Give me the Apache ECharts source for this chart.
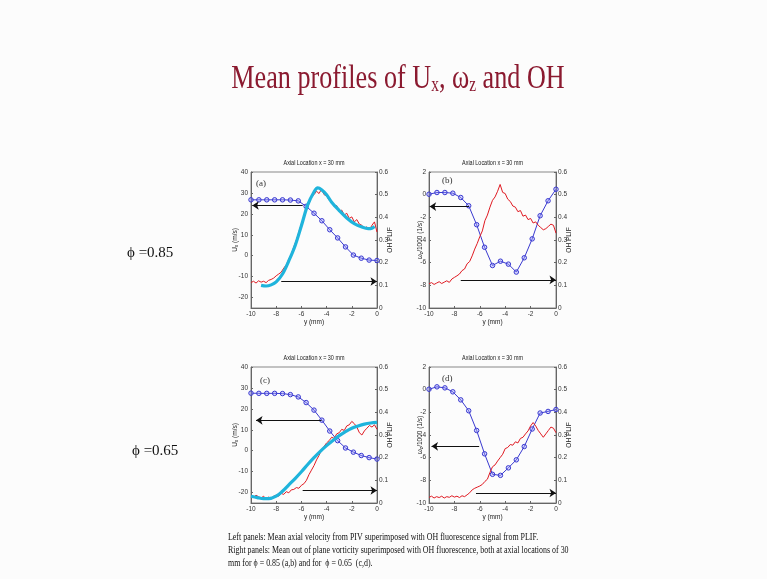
<!DOCTYPE html>
<html>
<head>
<meta charset="utf-8">
<script src="https://cdn.jsdelivr.net/npm/echarts@6/dist/echarts.min.js"></script>
<style>
  html, body { margin: 0; padding: 0; background: #fcfcfc; }
  #chart { width: 767px; height: 579px; }
</style>
</head>
<body>
<div id="chart"></div>
<script>
// PIV measurement stations across the burner radius (mm)
const stationY = [-10, -9.375, -8.75, -8.125, -7.5, -6.875, -6.25, -5.625, -5, -4.375, -3.75, -3.125, -2.5, -1.875, -1.25, -0.625, 0];
// mean axial velocity U_x (m/s) and out-of-plane vorticity omega_z/1000 (1/s)
const uxPhi085   = [26.7, 26.7, 26.7, 26.7, 26.7, 26.6, 26.2, 23.6, 20.3, 16.7, 12.4, 8.5, 4.2, 0.3, -1.2, -2.1, -2.3];
const vortPhi085 = [0.04, 0.19, 0.19, 0.13, -0.25, -0.98, -2.65, -4.64, -6.25, -5.87, -6.13, -6.83, -5.57, -3.9, -1.86, -0.54, 0.48];
const uxPhi065   = [27.5, 27.4, 27.4, 27.4, 27.3, 26.8, 25.7, 23.0, 19.4, 14.6, 9.4, 4.8, 1.3, -0.7, -2.3, -3.3, -4.0];
const vortPhi065 = [0.04, 0.25, 0.16, -0.19, -0.9, -1.86, -3.6, -5.66, -7.47, -7.56, -6.9, -6.19, -5.02, -3.47, -2.06, -1.92, -1.75];

// PLIF pixel columns (mm) and OH fluorescence signal
const plifY = [-10, -9.8, -9.6, -9.4, -9.2, -9, -8.8, -8.6, -8.4, -8.2, -8, -7.8, -7.6, -7.4, -7.2, -7, -6.8, -6.6, -6.4, -6.2,
               -6, -5.8, -5.6, -5.4, -5.2, -5, -4.8, -4.6, -4.4, -4.2, -4, -3.8, -3.6, -3.4, -3.2, -3, -2.8, -2.6, -2.4, -2.2,
               -2, -1.8, -1.6, -1.4, -1.2, -1, -0.8, -0.6, -0.4, -0.2, 0];
const ohPanelA = [0.112, 0.118, 0.110, 0.120, 0.114, 0.118, 0.112, 0.122, 0.126, 0.132, 0.142, 0.150, 0.158, 0.176, 0.190, 0.215, 0.238, 0.270, 0.300, 0.335,
                  0.372, 0.400, 0.435, 0.460, 0.490, 0.500, 0.515, 0.505, 0.525, 0.500, 0.495, 0.475, 0.470, 0.448, 0.452, 0.428, 0.432, 0.410, 0.418, 0.395,
                  0.402, 0.380, 0.390, 0.370, 0.365, 0.352, 0.358, 0.345, 0.365, 0.380, 0.335];
const ohPanelB = [0.107, 0.112, 0.104, 0.110, 0.116, 0.108, 0.114, 0.120, 0.113, 0.128, 0.135, 0.142, 0.150, 0.165, 0.172, 0.195, 0.205, 0.230, 0.260, 0.285,
                  0.315, 0.340, 0.385, 0.410, 0.445, 0.475, 0.490, 0.515, 0.545, 0.510, 0.505, 0.480, 0.470, 0.450, 0.445, 0.425, 0.430, 0.405, 0.410, 0.390,
                  0.395, 0.375, 0.380, 0.365, 0.355, 0.345, 0.350, 0.360, 0.370, 0.365, 0.330];
const ohPanelC = [0.030, 0.025, 0.034, 0.028, 0.022, 0.030, 0.018, 0.026, 0.020, 0.030, 0.035, 0.030, 0.042, 0.038, 0.050, 0.045, 0.058, 0.060, 0.068, 0.065,
                  0.078, 0.085, 0.100, 0.125, 0.145, 0.165, 0.190, 0.210, 0.235, 0.250, 0.265, 0.275, 0.290, 0.285, 0.305, 0.310, 0.325, 0.320, 0.340, 0.345,
                  0.360, 0.350, 0.335, 0.310, 0.300, 0.318, 0.330, 0.342, 0.335, 0.345, 0.325];
const ohPanelD = [0.025, 0.030, 0.022, 0.028, 0.024, 0.030, 0.022, 0.028, 0.025, 0.032, 0.026, 0.030, 0.024, 0.032, 0.028, 0.036, 0.045, 0.058, 0.065, 0.070,
                  0.075, 0.082, 0.095, 0.105, 0.135, 0.160, 0.168, 0.185, 0.200, 0.215, 0.240, 0.245, 0.258, 0.255, 0.270, 0.265, 0.285, 0.290, 0.305, 0.318,
                  0.340, 0.355, 0.340, 0.320, 0.305, 0.290, 0.305, 0.320, 0.335, 0.330, 0.310];

// smoothed OH profiles overlaid on the velocity panels
const fitYPhi085  = [-9.2, -8.8, -8.4, -8, -7.5, -7, -6.5, -6, -5.5, -5, -4.7, -4.4, -4, -3.6, -3, -2.4, -1.8, -1.2, -0.7, -0.4, -0.2];
const fitOHPhi085 = [0.100, 0.097, 0.102, 0.115, 0.150, 0.208, 0.275, 0.363, 0.455, 0.512, 0.530, 0.522, 0.500, 0.467, 0.430, 0.397, 0.372, 0.357, 0.350, 0.352, 0.360];
const fitYPhi065  = [-10, -9.5, -9, -8.6, -8, -7.5, -7, -6.5, -6, -5.5, -5, -4.5, -4, -3.5, -3, -2.5, -2, -1.5, -1, -0.5, 0];
const fitOHPhi065 = [0.030, 0.024, 0.019, 0.019, 0.030, 0.052, 0.080, 0.108, 0.138, 0.170, 0.200, 0.228, 0.253, 0.276, 0.297, 0.315, 0.330, 0.340, 0.348, 0.353, 0.356];

// arrows pointing each curve to its axis: [fromY, toY, level]
const arrowLeftA  = [-5.9, -9.9, 24];      const arrowRightA = [-7.6, 0, 0.117];
const arrowLeftB  = [-6.85, -9.95, -1.05]; const arrowRightB = [-7.5, 0, 0.124];
const arrowLeftC  = [-4.4, -9.6, 14.5];    const arrowRightC = [-5.9, 0, 0.055];
const arrowLeftD  = [-6.05, -9.8, -5.0];   const arrowRightD = [-6.3, 0, 0.044];

// tick labels
const xTicks = [-10, -8, -6, -4, -2, 0];
const uxTicks = [-20, -10, 0, 10, 20, 30, 40];
const panelTitle = 'Axial Location x = 30 mm';
const panelLetters = ['(a)', '(b)', '(c)', '(d)'];
const phiLabels = ['\u03d5 =0.85', '\u03d5 =0.65'];
const captionLines = [
  'Left panels: Mean axial velocity from PIV superimposed with OH fluorescence signal from PLIF.',
  'Right panels: Mean out of plane vorticity superimposed with OH fluorescence, both at axial locations of 30',
  'mm for \u03d5 = 0.85 (a,b) and for  \u03d5 = 0.65  (c,d).'
];

const zip = (xs, ys) => xs.map((x, i) => [x, ys[i]]);

const BLUE = '#3a3ad0', RED = '#e01a22', CYAN = '#1fb4dc';
const SANS = "'Liberation Sans', Arial, sans-serif";
const SERIF = "'Liberation Serif', 'Times New Roman', serif";

const axisLineStyle = { show: true, onZero: false, lineStyle: { color: '#666', width: 1 } };
const tickStyle = { show: true, inside: true, length: 2, lineStyle: { color: '#666' } };
const labelStyle = { fontSize: 6.5, color: '#333', fontFamily: SANS, margin: 3 };
const nameStyle = { fontSize: 6.5, color: '#222', fontFamily: SANS,
  rich: { n: { fontSize: 6.5, fontFamily: SANS, color: '#222' },
          s: { fontSize: 4.8, fontFamily: SANS, color: '#222', verticalAlign: 'bottom', padding: [3, 0, 0, 0] } } };

const layout = [
  { left: 251, top: 172, width: 126, height: 136 },
  { left: 429, top: 172, width: 127, height: 136 },
  { left: 251, top: 367, width: 126, height: 136 },
  { left: 429, top: 367, width: 127, height: 136 }
];

const grid = layout.map(g => ({ ...g, show: true, borderColor: '#888', borderWidth: 1, backgroundColor: 'transparent' }));

const xAxis = layout.map((g, i) => ({
  type: 'value', gridIndex: i, min: -10, max: 0, interval: 2,
  name: 'y (mm)', nameLocation: 'middle', nameGap: 11, nameMoveOverlap: false, nameTextStyle: nameStyle,
  axisLine: axisLineStyle, axisTick: tickStyle, splitLine: { show: false },
  axisLabel: { ...labelStyle, margin: 3, customValues: xTicks }
}));

function leftAxis(i, isVelocity) {
  const base = {
    type: 'value', gridIndex: i, position: 'left',
    nameLocation: 'middle', nameRotate: 90, nameMoveOverlap: false, nameTextStyle: nameStyle,
    axisLine: axisLineStyle, splitLine: { show: false }
  };
  if (isVelocity) {
    return { ...base, min: -25, max: 40, name: '{n|U}{s|x}{n| (m/s)}', nameGap: 12,
      axisTick: { ...tickStyle, customValues: uxTicks },
      axisLabel: { ...labelStyle, customValues: uxTicks } };
  }
  return { ...base, min: -10, max: 2, interval: 2, name: '{n|\u03c9}{s|z}{n|/1000 (1/s)}', nameGap: 5,
    axisTick: tickStyle, axisLabel: labelStyle };
}
function rightAxis(i) {
  return {
    type: 'value', gridIndex: i, position: 'right', min: 0, max: 0.6, interval: 0.1,
    name: 'OH PLIF', nameLocation: 'middle', nameRotate: 90, nameGap: 10, nameMoveOverlap: false, nameTextStyle: nameStyle,
    axisLine: axisLineStyle, axisTick: tickStyle, splitLine: { show: false },
    axisLabel: { ...labelStyle, margin: 2, formatter: v => (v === 0 ? '0' : v.toFixed(1)) }
  };
}
const yAxis = [
  leftAxis(0, true), rightAxis(0),
  leftAxis(1, false), rightAxis(1),
  leftAxis(2, true), rightAxis(2),
  leftAxis(3, false), rightAxis(3)
];

function arrow(spec, color) {
  return {
    silent: true, symbol: ['none', 'arrow'], symbolSize: 6.5, animation: false,
    label: { show: false },
    lineStyle: { color: color, width: 1, type: 'solid' },
    emphasis: { disabled: true },
    data: [[{ coord: [spec[0], spec[2]] }, { coord: [spec[1], spec[2]] }]]
  };
}

function profile(i, yIdx, xs, ys, left) {
  return {
    type: 'line', xAxisIndex: i, yAxisIndex: yIdx, data: zip(xs, ys), z: 3,
    symbol: 'circle', symbolSize: 4.5, showSymbol: true,
    lineStyle: { color: BLUE, width: 1 },
    itemStyle: { color: 'rgba(150,150,255,0.35)', borderColor: BLUE, borderWidth: 1 },
    markLine: arrow(left, '#111')
  };
}
function plif(i, yIdx, ys, right) {
  return {
    type: 'line', xAxisIndex: i, yAxisIndex: yIdx, data: zip(plifY, ys), z: 4,
    showSymbol: false, symbol: 'none',
    lineStyle: { color: RED, width: 1 },
    markLine: arrow(right, '#111')
  };
}
function fit(i, yIdx, xs, ys) {
  return {
    type: 'line', xAxisIndex: i, yAxisIndex: yIdx, data: zip(xs, ys), z: 5,
    showSymbol: false, symbol: 'none', smooth: 0.35,
    lineStyle: { color: CYAN, width: 3.2 }
  };
}

const series = [
  profile(0, 0, stationY, uxPhi085, arrowLeftA),
  plif(0, 1, ohPanelA, arrowRightA),
  fit(0, 1, fitYPhi085, fitOHPhi085),
  profile(1, 2, stationY, vortPhi085, arrowLeftB),
  plif(1, 3, ohPanelB, arrowRightB),
  profile(2, 4, stationY, uxPhi065, arrowLeftC),
  plif(2, 5, ohPanelC, arrowRightC),
  fit(2, 5, fitYPhi065, fitOHPhi065),
  profile(3, 6, stationY, vortPhi065, arrowLeftD),
  plif(3, 7, ohPanelD, arrowRightD)
];

// slide text
const graphic = [];
graphic.push({
  type: 'text', x: 398, y: 76, scaleX: 0.77, silent: true,
  style: {
    text: '{m|Mean profiles of U}{s|x}{m|, \u03c9}{s|z}{m| and OH}',
    textAlign: 'center', textVerticalAlign: 'middle',
    rich: {
      m: { fontSize: 34, fontFamily: SERIF, fill: '#8b1a30', color: '#8b1a30', lineHeight: 40, verticalAlign: 'bottom' },
      s: { fontSize: 20, fontFamily: SERIF, fill: '#8b1a30', color: '#8b1a30', lineHeight: 20, verticalAlign: 'bottom', padding: [14, 0, 0, 0] }
    }
  }
});
graphic.push({ type: 'text', x: 127, y: 253, silent: true,
  style: { text: phiLabels[0], font: '15px ' + SERIF, fill: '#111', textAlign: 'left', textVerticalAlign: 'middle' } });
graphic.push({ type: 'text', x: 132, y: 451, silent: true,
  style: { text: phiLabels[1], font: '15px ' + SERIF, fill: '#111', textAlign: 'left', textVerticalAlign: 'middle' } });
[537, 550, 563].forEach((yy, k) => graphic.push({
  type: 'text', x: 228, y: yy, scaleX: 0.755, silent: true,
  style: { text: captionLines[k], font: '10.5px ' + SERIF, fill: '#111', textAlign: 'left', textVerticalAlign: 'middle' }
}));
const letterPos = [[256, 184], [442, 181], [260, 381], [442, 379]];
layout.forEach((g, i) => {
  graphic.push({ type: 'text', x: g.left + g.width / 2, y: g.top - 9, scaleX: 0.8, silent: true,
    style: { text: panelTitle, font: '6.8px ' + SANS, fill: '#222', textAlign: 'center', textVerticalAlign: 'middle' } });
  graphic.push({ type: 'text', x: letterPos[i][0], y: letterPos[i][1], silent: true,
    style: { text: panelLetters[i], font: '9px ' + SERIF, fill: '#333', textAlign: 'left', textVerticalAlign: 'middle' } });
});

const chart = echarts.init(document.getElementById('chart'), null, { renderer: 'canvas' });
chart.setOption({
  backgroundColor: '#fcfcfc',
  animation: false,
  grid, xAxis, yAxis, series, graphic
});
</script>
</body>
</html>
